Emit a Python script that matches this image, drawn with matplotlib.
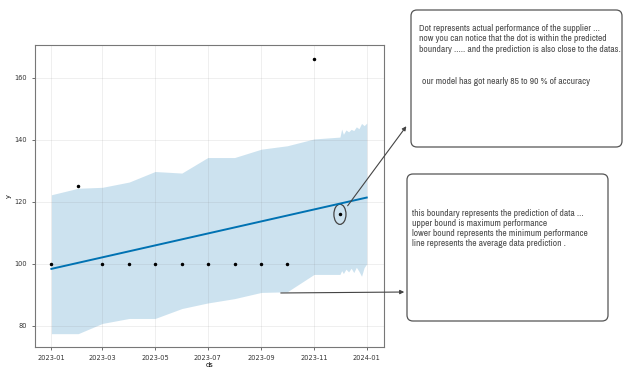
import numpy as np
import matplotlib.pyplot as plt
import matplotlib.dates as mdates
from matplotlib.patches import Ellipse, FancyBboxPatch

# Observed points (monthly)
obs_dates = np.array(["2023-01-01", "2023-02-01", "2023-03-01", "2023-04-01", "2023-05-01",
                      "2023-06-01", "2023-07-01", "2023-08-01", "2023-09-01", "2023-10-01",
                      "2023-11-01", "2023-12-01"], dtype="datetime64[D]")
obs_y = [100, 125, 100, 100, 100, 100, 100, 100, 100, 100, 166, 116]

# Forecast band (monthly, then the noisy December part)
band_dates = np.array(["2023-01-01", "2023-02-01", "2023-03-01", "2023-04-01", "2023-05-01",
                       "2023-06-01", "2023-07-01", "2023-08-01", "2023-09-01", "2023-10-01",
                       "2023-11-01", "2023-12-01", "2023-12-03", "2023-12-05", "2023-12-08",
                       "2023-12-11", "2023-12-14", "2023-12-17", "2023-12-20", "2023-12-23",
                       "2023-12-26", "2023-12-29", "2024-01-01"], dtype="datetime64[D]")
upper = [122.3, 124.4, 124.7, 126.4, 129.8, 129.3, 134.3, 134.3, 137.0, 138.1, 140.3, 140.9,
         143.5, 141.8, 143.2, 142.6, 143.4, 143.0, 144.2, 143.6, 145.3, 144.6, 145.4]
lower = [77.5, 77.5, 80.8, 82.4, 82.4, 85.6, 87.4, 88.8, 90.8, 91.0, 96.6, 96.6,
         97.8, 96.9, 98.3, 97.4, 98.6, 97.2, 98.9, 97.6, 96.0, 98.8, 100.0]

trend_dates = np.array(["2023-01-01", "2024-01-01"], dtype="datetime64[D]")
trend_y = [98.4, 121.4]

note_top = ("Dot represents actual performance of the supplier ...\n"
            "now you can notice that the dot is within the predicted\n"
            "boundary ..... and the prediction is also close to the datas.")
note_acc = "our model has got nearly 85 to 90 % of accuracy"
note_bottom = ("this boundary represents the prediction of data ...\n"
               "upper bound is maximum performance\n"
               "lower bound represents the minimum performance\n"
               "line represents the average data prediction .")

W, H = 626, 369
fig = plt.figure(figsize=(W / 100, H / 100), dpi=100)
ax = fig.add_axes([35 / W, 1 - 347 / H, 349 / W, 302 / H])

ax.fill_between(band_dates, lower, upper, color="#0072B2", alpha=0.2, linewidth=0)
ax.plot(trend_dates, trend_y, color="#0072B2", linewidth=1.4)
ax.plot(obs_dates, obs_y, "k.", markersize=3)

ax.set_xlim(np.datetime64("2022-12-13"), np.datetime64("2024-01-21"))
ax.set_ylim(73.2, 170.6)
ax.set_yticks([80, 100, 120, 140, 160])
ax.set_xticks(np.array(["2023-01-01", "2023-03-01", "2023-05-01", "2023-07-01",
                        "2023-09-01", "2023-11-01", "2024-01-01"], dtype="datetime64[D]"))
ax.xaxis.set_major_formatter(mdates.DateFormatter("%Y-%m"))
ax.tick_params(labelsize=4.8, length=2, width=0.5, colors="#333333")
ax.grid(True, color="gray", alpha=0.15, linewidth=0.6)
ax.set_xlabel("ds", fontsize=4.8, labelpad=1)
ax.set_ylabel("y", fontsize=4.8, labelpad=2)
for s in ax.spines.values():
    s.set_color("#777777")
    s.set_linewidth(0.8)

# circle round the December point
ax.add_patch(Ellipse((mdates.date2num(np.datetime64("2023-12-01")), 116), 14, 6.5,
                     fill=False, edgecolor="#444444", linewidth=0.9))

# overlay in pixel coords
ov = fig.add_axes([0, 0, 1, 1])
ov.set_xlim(0, W)
ov.set_ylim(H, 0)
ov.axis("off")

for (x0, y0, x1, y1) in [(411, 10, 622, 147), (407, 174, 608, 321)]:
    ov.add_patch(FancyBboxPatch((x0, y0), x1 - x0, y1 - y0,
                                boxstyle="round,pad=0,rounding_size=6",
                                fill=False, edgecolor="#555555", linewidth=0.9))

txt_font = ["Archivo Narrow", "Liberation Sans", "DejaVu Sans"]
txt_col = "#4a4a4a"
ov.text(419, 24, note_top, fontsize=6.85, color=txt_col, va="top",
        linespacing=1.2, family=txt_font)
ov.text(422, 77, note_acc, fontsize=6.85, color=txt_col, va="top", family=txt_font)
ov.text(412, 209, note_bottom, fontsize=6.85, color=txt_col, va="top",
        linespacing=1.16, family=txt_font)

ov.annotate("", xy=(408, 124), xytext=(346, 208),
            arrowprops=dict(arrowstyle="-|>", color="#444444", lw=0.8, mutation_scale=6))
ov.annotate("", xy=(407, 292), xytext=(278, 293),
            arrowprops=dict(arrowstyle="-|>", color="#444444", lw=0.8, mutation_scale=6))

fig.savefig("out.png", dpi=100)
